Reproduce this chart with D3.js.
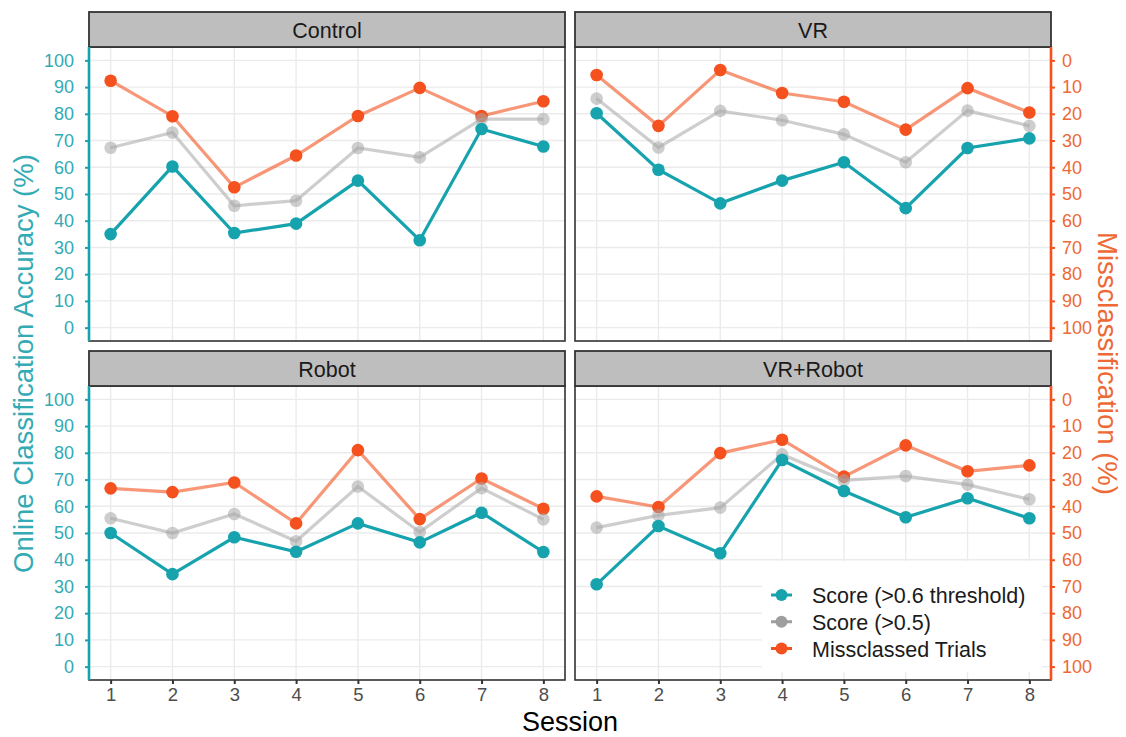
<!DOCTYPE html>
<html>
<head>
<meta charset="utf-8">
<script src="https://cdn.jsdelivr.net/npm/d3@7/dist/d3.min.js"></script>
<style>
  html, body { margin: 0; padding: 0; background: #ffffff; }
  svg { display: block; font-family: "Liberation Sans", Arial, sans-serif; }
</style>
</head>
<body>
<svg id="chart" width="1126" height="737"></svg>
<script>
// Sessions on the x axis
const sessions = [1, 2, 3, 4, 5, 6, 7, 8];
const panelNames = ["Control", "VR", "Robot", "VR+Robot"];

// Online classification accuracy, score above the 0.6 threshold (%)
const score06Control = [35, 60.3, 35.4, 38.9, 55.0, 32.7, 74.3, 67.8];
const score06VR      = [80.2, 59.1, 46.5, 55.0, 61.9, 44.7, 67.2, 70.8];
const score06Robot   = [50.0, 34.6, 48.4, 43.0, 53.6, 46.5, 57.6, 42.9];
const score06VRRobot = [30.8, 52.6, 42.4, 77.3, 65.7, 55.9, 63.0, 55.5];

// Online classification accuracy, score above 0.5 (%)
const score05Control = [67.3, 73.0, 45.6, 47.5, 67.2, 63.7, 78.0, 78.0];
const score05VR      = [85.7, 67.4, 81.1, 77.6, 72.3, 61.9, 81.2, 75.5];
const score05Robot   = [55.5, 50.0, 57.1, 46.9, 67.4, 50.4, 66.8, 55.1];
const score05VRRobot = [52.0, 56.6, 59.5, 79.4, 69.7, 71.3, 68.1, 62.6];

// Missclassified trials (%), read on the reversed right-hand axis
const missedControl = [7.6, 20.9, 47.5, 35.6, 20.8, 10.3, 20.8, 15.3];
const missedVR      = [5.5, 24.5, 3.6, 12.2, 15.5, 25.9, 10.4, 19.5];
const missedRobot   = [33.3, 34.7, 31.1, 46.4, 19.0, 44.8, 29.6, 40.9];
const missedVRRobot = [36.3, 40.3, 20.1, 15.1, 28.9, 17.2, 26.9, 24.7];

const yTicks = [0, 10, 20, 30, 40, 50, 60, 70, 80, 90, 100];

const legendLabels = ["Score (>0.6 threshold)", "Score (>0.5)", "Missclassed Trials"];

// ---- styling ----
const TEAL = "#17a3ae";
const TEAL_TEXT = "#33aab4";
const ORANGE = "#f4511e";
const ORANGE_TEXT = "#ee6935";
const GRAY = "#a6a6a6";
const FONT = "Liberation Sans, Arial, sans-serif";

const svg = d3.select("#chart");

// panel frames: [left, right] columns and [top, bottom] rows
const cols = [{x0: 89, x1: 565}, {x0: 575, x1: 1051}];
const rows = [{s0: 12, p0: 47, p1: 341}, {s0: 351, p0: 386, p1: 680}];

const panels = [
  {name: panelNames[0], col: 0, row: 0, s06: score06Control, s05: score05Control, miss: missedControl},
  {name: panelNames[1], col: 1, row: 0, s06: score06VR, s05: score05VR, miss: missedVR},
  {name: panelNames[2], col: 0, row: 1, s06: score06Robot, s05: score05Robot, miss: missedRobot},
  {name: panelNames[3], col: 1, row: 1, s06: score06VRRobot, s05: score05VRRobot, miss: missedVRRobot}
];

panels.forEach(p => {
  const c = cols[p.col], r = rows[p.row];
  const x = d3.scaleLinear().domain([0.65, 8.35]).range([c.x0, c.x1]);
  const y = d3.scaleLinear().domain([-5, 105]).range([r.p1, r.p0]);
  const yMiss = d3.scaleLinear().domain([-5, 105]).range([r.p0, r.p1]);

  const g = svg.append("g");

  // panel background
  g.append("rect").attr("x", c.x0).attr("y", r.p0)
    .attr("width", c.x1 - c.x0).attr("height", r.p1 - r.p0).attr("fill", "#ffffff");

  // grid
  const grid = g.append("g").attr("stroke", "#ebebeb").attr("stroke-width", 1.4);
  grid.selectAll("line.h").data(yTicks).join("line")
    .attr("x1", c.x0).attr("x2", c.x1)
    .attr("y1", d => y(d)).attr("y2", d => y(d));
  grid.selectAll("line.v").data(sessions).join("line")
    .attr("y1", r.p0).attr("y2", r.p1)
    .attr("x1", d => x(d)).attr("x2", d => x(d));

  // series
  const line = (scale, vals) => d3.line()
    .x((d, i) => x(sessions[i]))
    .y(d => scale(d))(vals);

  // missclassified trials (orange, right axis)
  g.append("path").attr("d", line(yMiss, p.miss))
    .attr("fill", "none").attr("stroke", ORANGE).attr("stroke-opacity", 0.6)
    .attr("stroke-width", 3.2);
  g.selectAll("circle.miss").data(p.miss).join("circle")
    .attr("cx", (d, i) => x(sessions[i])).attr("cy", d => yMiss(d))
    .attr("r", 6.3).attr("fill", ORANGE);

  // score > 0.5 (gray, translucent)
  g.append("path").attr("d", line(y, p.s05))
    .attr("fill", "none").attr("stroke", GRAY).attr("stroke-opacity", 0.55)
    .attr("stroke-width", 3.2);
  g.selectAll("circle.s05").data(p.s05).join("circle")
    .attr("cx", (d, i) => x(sessions[i])).attr("cy", d => y(d))
    .attr("r", 6.3).attr("fill", GRAY).attr("fill-opacity", 0.55);

  // score > 0.6 threshold (teal)
  g.append("path").attr("d", line(y, p.s06))
    .attr("fill", "none").attr("stroke", TEAL).attr("stroke-width", 3.2);
  g.selectAll("circle.s06").data(p.s06).join("circle")
    .attr("cx", (d, i) => x(sessions[i])).attr("cy", d => y(d))
    .attr("r", 6.3).attr("fill", TEAL);

  // panel border
  g.append("rect").attr("x", c.x0).attr("y", r.p0)
    .attr("width", c.x1 - c.x0).attr("height", r.p1 - r.p0)
    .attr("fill", "none").attr("stroke", "#333333").attr("stroke-width", 1.6);

  // strip
  g.append("rect").attr("x", c.x0).attr("y", r.s0)
    .attr("width", c.x1 - c.x0).attr("height", r.p0 - r.s0)
    .attr("fill", "#bebebe").attr("stroke", "#333333").attr("stroke-width", 1.8);
  g.append("text").attr("x", (c.x0 + c.x1) / 2).attr("y", (r.s0 + r.p0) / 2 + 1)
    .attr("text-anchor", "middle").attr("dominant-baseline", "central")
    .attr("font-size", 21.5).attr("fill", "#1a1a1a").text(p.name);

  // left axis on the left column
  if (p.col === 0) {
    const ax = g.append("g").attr("transform", `translate(${c.x0},0)`)
      .call(d3.axisLeft(y).tickValues(yTicks).tickSize(4).tickPadding(11));
    ax.select(".domain").attr("stroke", TEAL).attr("stroke-width", 2.6)
      .attr("d", `M0,${r.p0}V${r.p1}`);
    ax.selectAll(".tick line").attr("stroke", TEAL).attr("stroke-width", 2);
    ax.selectAll(".tick text").attr("fill", TEAL_TEXT).attr("font-size", 18)
      .attr("font-family", FONT);
  }
  // reversed right axis on the right column
  if (p.col === 1) {
    const ax = g.append("g").attr("transform", `translate(${c.x1},0)`)
      .call(d3.axisRight(yMiss).tickValues(yTicks).tickSize(4).tickPadding(7));
    ax.select(".domain").attr("stroke", ORANGE).attr("stroke-width", 2.6)
      .attr("d", `M0,${r.p0}V${r.p1}`);
    ax.selectAll(".tick line").attr("stroke", ORANGE).attr("stroke-width", 2);
    ax.selectAll(".tick text").attr("fill", ORANGE_TEXT).attr("font-size", 18)
      .attr("font-family", FONT);
  }
  // session axis on the bottom row
  if (p.row === 1) {
    const ax = g.append("g").attr("transform", `translate(0,${r.p1})`)
      .call(d3.axisBottom(x).tickValues(sessions).tickFormat(d3.format("d")).tickSize(4).tickPadding(4));
    ax.select(".domain").remove();
    ax.selectAll(".tick line").attr("stroke", "#333333").attr("stroke-width", 2);
    ax.selectAll(".tick text").attr("fill", "#4d4d4d").attr("font-size", 18.5)
      .attr("font-family", FONT);
  }
});

// axis titles
svg.append("text").attr("x", 570).attr("y", 731)
  .attr("text-anchor", "middle").attr("font-size", 27).attr("fill", "#000000")
  .text("Session");

svg.append("text")
  .attr("transform", "translate(33,363.5) rotate(-90)")
  .attr("text-anchor", "middle").attr("font-size", 27.5).attr("fill", TEAL_TEXT)
  .text("Online Classification Accuracy (%)");

svg.append("text")
  .attr("transform", "translate(1098,363.5) rotate(90)")
  .attr("text-anchor", "middle").attr("font-size", 27.5).attr("fill", ORANGE_TEXT)
  .text("Missclassification (%)");

// legend inside the VR+Robot panel
const legend = svg.append("g");
legend.append("rect").attr("x", 762).attr("y", 561).attr("width", 280).attr("height", 111)
  .attr("fill", "#ffffff");
const legendColors = [TEAL, "#9e9e9e", ORANGE];
const ly = d3.scalePoint().domain(legendLabels).range([595, 648.5]);
legendLabels.forEach((lab, i) => {
  const yy = ly(lab);
  legend.append("line").attr("x1", 771).attr("x2", 792).attr("y1", yy).attr("y2", yy)
    .attr("stroke", legendColors[i]).attr("stroke-width", 3);
  legend.append("circle").attr("cx", 781.5).attr("cy", yy).attr("r", 6)
    .attr("fill", legendColors[i]);
  legend.append("text").attr("x", 812).attr("y", yy + 1).attr("dominant-baseline", "central")
    .attr("font-size", 21.5).attr("fill", "#1a1a1a").text(lab);
});
</script>
</body>
</html>
